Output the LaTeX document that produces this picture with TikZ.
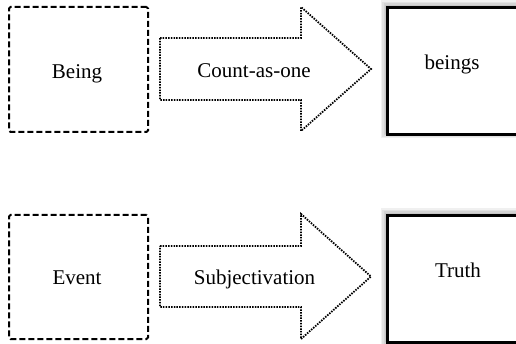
\documentclass[tikz,border=0pt]{standalone}
\usepackage{fontspec}
\setmainfont{Liberation Serif}
\begin{document}
\begin{tikzpicture}[x=1pt,y=-1pt,
  font=\fontsize{21}{25}\selectfont,
  srcbox/.style={draw, line width=2pt, dash pattern=on 6pt off 3pt, rounded corners=1.5pt, minimum width=139pt, minimum height=125pt, inner sep=0pt},
  flowarrow/.style={draw, line width=1.8pt, dash pattern=on 1.5pt off 1.2pt},
  resbox/.style={draw, fill=white, line width=2.6pt, minimum width=144pt, minimum height=127pt, inner sep=0pt},
  glow/.style={fill=black, opacity=0.06},
  lbl/.style={anchor=base, inner sep=0pt}]
\useasboundingbox (0,0) rectangle (516,344);
\clip (0,0) rectangle (516,344);
\fill[white] (0,0) rectangle (516,344);

% top row
\node[srcbox] (being) at (78.5,69.5) {};
\node[lbl] (beingtxt) at (77,79) {Being};
\draw[flowarrow] (160,38) -- (301,38) -- (301,7) -- (371,69) -- (301,131) -- (301,100) -- (160,100) -- cycle;
\node[lbl] (counttxt) at (254,78) {Count-as-one};
\foreach \d in {1,2.5,4,5.5} {\fill[glow] (386-\d,6-\d) rectangle (540,133+\d);}
\node[resbox, anchor=north west] (beings) at (386,6) {};
\node[lbl] (beingstxt) at (452,70) {beings};

% bottom row
\node[srcbox, minimum height=124pt] (event) at (78.5,277) {};
\node[lbl] (eventtxt) at (77,285) {Event};
\draw[flowarrow] (160,246) -- (301,246) -- (301,214) -- (371,276.5) -- (301,339) -- (301,307) -- (160,307) -- cycle;
\node[lbl] (subjtxt) at (254.5,284) {Subjectivation};
\foreach \d in {1,2.5,4,5.5} {\fill[glow] (386-\d,214-\d) rectangle (540,341+\d);}
\node[resbox, anchor=north west] (truth) at (386,214) {};
\node[lbl] (truthtxt) at (458,277) {Truth};
\end{tikzpicture}
\end{document}
